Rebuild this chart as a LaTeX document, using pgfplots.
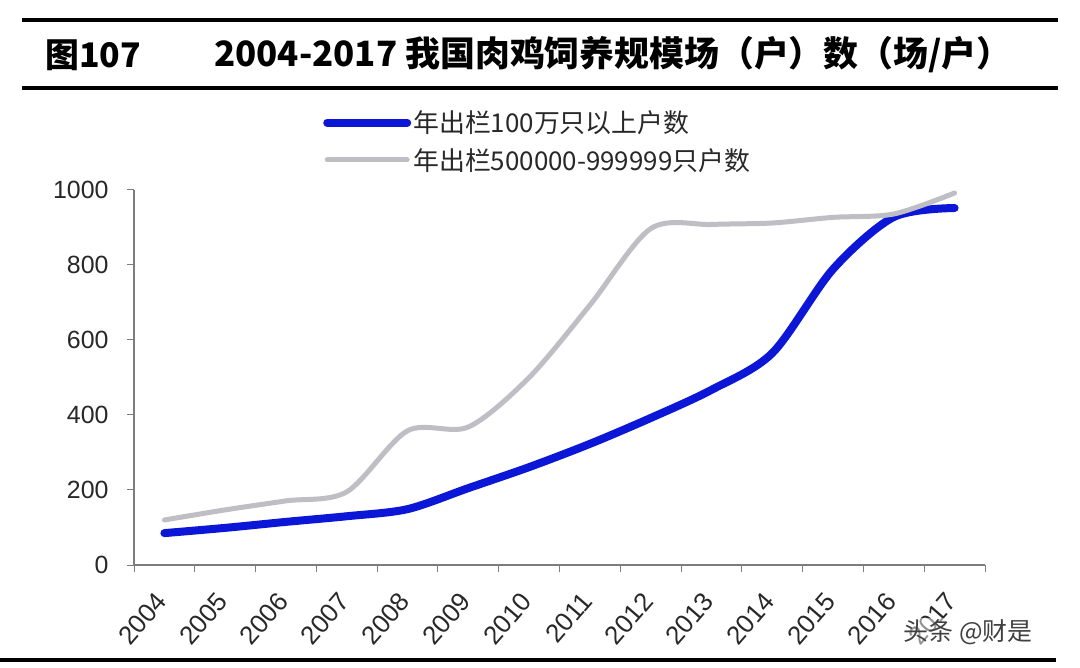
\documentclass[border=0pt]{standalone}
\usepackage{pgfplots}
\pgfplotsset{compat=1.18}
\usepackage{fontspec}
\setmainfont{Liberation Sans}
\newfontfamily\cjk{Noto Sans CJK SC}
\definecolor{myblue}{RGB}{12,22,215}
\definecolor{mygray}{RGB}{190,190,196}
\definecolor{axgray}{RGB}{125,125,125}
\definecolor{txt}{RGB}{40,40,40}
\begin{document}
\begin{tikzpicture}
\useasboundingbox (0bp,0bp) rectangle (1080bp,668bp);
\fill[white] (0bp,0bp) rectangle (1080bp,668bp);
\draw[line width=3.5bp] (22bp,648bp) -- (1058bp,648bp);
\draw[line width=3.5bp] (22bp,580bp) -- (1058bp,580bp);
\draw[line width=3.5bp] (0bp,8bp) -- (1056bp,8bp);
\node[anchor=west, inner sep=0pt, font=\cjk\bfseries\fontsize{34}{38}\selectfont] at (45bp,613bp) {图107};
\node[anchor=west, inner sep=0pt, font=\cjk\bfseries\fontsize{35}{38}\selectfont] at (214bp,613bp) {2004-2017 我国肉鸡饲养规模场（户）数（场/户）};
\begin{axis}[
  at={(134bp,103bp)}, anchor=south west,
  width=851bp, height=375bp, scale only axis,
  xmin=-0.5, xmax=13.5, ymin=0, ymax=1000,
  ytick={0,200,...,1000},
  xtick={0,...,13},
  xticklabels={2004,2005,2006,2007,2008,2009,2010,2011,2012,2013,2014,2015,2016,2017},
  minor xtick={-0.5,0.5,...,13.5},
  major x tick style={draw=none},
  minor x tick style={axgray, line width=1bp},
  major y tick style={axgray, line width=1bp},
  minor tick length=7bp, major tick length=7bp,
  tick align=outside,
  axis x line*=bottom, axis y line*=left,
  axis line style={axgray, line width=1.3bp},
  yticklabel style={font=\fontsize{25}{28}\selectfont, text=txt, xshift=-15bp},
  xticklabel style={font=\fontsize{26}{28}\selectfont, text=txt, rotate=49, anchor=east, xshift=-17bp, yshift=-14bp},
  /pgf/number format/assume math mode=true,
  /pgf/number format/1000 sep={},
  clip=false,
  legend style={at={(0.2186,1.222)}, anchor=north west, draw=none, fill=none,
    font=\cjk\fontsize{26}{30}\selectfont, text=txt, row sep=10bp,
    /tikz/every even column/.append style={column sep=4bp}},
  legend cell align=left,
  legend image code/.code={\draw[#1] (0bp,0bp) -- (80bp,0bp);},
]
\addplot[myblue, line width=8bp, line cap=round, smooth, tension=0.5] coordinates {
(0,85) (1,99) (2,115) (3,130) (4,149) (5,205) (6,261) (7,323) (8,392) (9,467) (10,565) (11,789) (12,928) (13,952)};
\addlegendentry{年出栏100万只以上户数}
\addplot[mygray, line width=5bp, line cap=round, smooth, tension=0.5] coordinates {
(0,120) (1,147) (2,171) (3,195) (4,358) (5,368) (6,500) (7,693) (8,897) (9,908) (10,912) (11,927) (12,936) (13,992)};
\addlegendentry{年出栏500000-999999只户数}
\end{axis}
\node[anchor=center, font=\cjk\fontsize{25}{28}\selectfont, text=black!75, fill=white, fill opacity=0.5, text opacity=1, inner sep=1pt] at (968bp,36bp) {头条 @财是};
\end{tikzpicture}
\end{document}
